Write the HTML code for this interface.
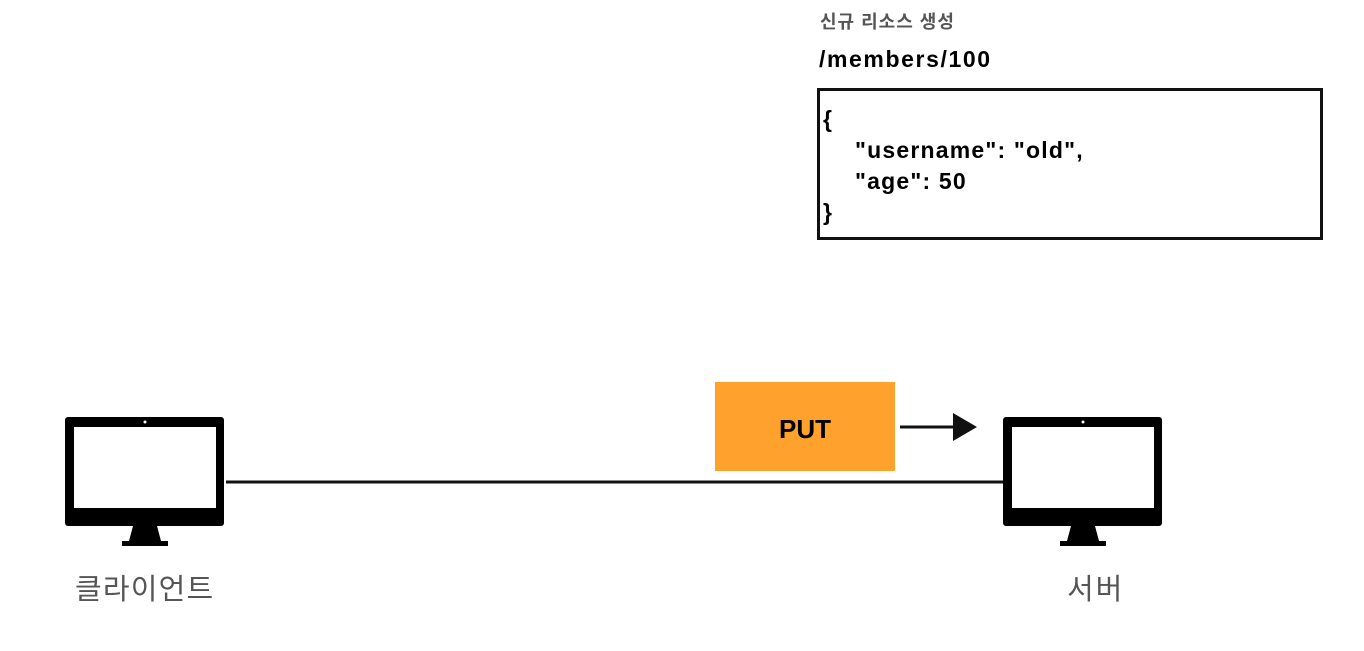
<!DOCTYPE html>
<html><head><meta charset="utf-8"><style>
body{margin:0;width:1364px;height:651px;background:#fff;position:relative;overflow:hidden;font-family:"Liberation Sans","Noto Sans CJK KR",sans-serif}
.a{position:absolute;white-space:nowrap}
.j{font-size:23px;font-weight:bold;color:#000;letter-spacing:1.2px}
</style></head><body>
<div class="a" style="left:820px;top:8px;font-size:18px;font-weight:bold;color:#555;letter-spacing:1px">신규 리소스 생성</div>
<div class="a" style="left:819px;top:46px;font-size:23px;font-weight:bold;color:#000;letter-spacing:1.6px">/members/100</div>
<div class="a" style="left:817px;top:88px;width:500px;height:146px;border:3px solid #111"></div>
<div class="a j" style="left:823px;top:106px">{</div>
<div class="a j" style="left:855px;top:137px">"username": "old",</div>
<div class="a j" style="left:855px;top:168px">"age": 50</div>
<div class="a j" style="left:823px;top:199px">}</div>
<svg class="a" style="left:0;top:0" width="1364" height="651">
<g id="m">
<rect x="65" y="417" width="159" height="109" rx="3" fill="#000"/>
<rect x="74" y="427" width="142" height="81" fill="#fff"/>
<circle cx="145" cy="422" r="1.5" fill="#fff"/>
<polygon points="133,526 157,526 161,541 129,541" fill="#000"/>
<rect x="122" y="541" width="46" height="5" fill="#000"/>
</g>
<use href="#m" x="938"/>
<line x1="226" y1="482" x2="1003" y2="482" stroke="#111" stroke-width="3"/>
<rect x="715" y="382" width="180" height="89" fill="#FFA22D"/>
<text x="805" y="438" font-size="26" font-weight="bold" text-anchor="middle" font-family="Liberation Sans">PUT</text>
<line x1="900" y1="427" x2="956" y2="427" stroke="#111" stroke-width="3"/>
<polygon points="953,413 977,427 953,441" fill="#111"/>
</svg>
<div class="a" style="left:75px;top:566px;font-size:29px;color:#555;letter-spacing:1.2px">클라이언트</div>
<div class="a" style="left:1067px;top:566px;font-size:29px;color:#555;letter-spacing:2px">서버</div>
</body></html>
